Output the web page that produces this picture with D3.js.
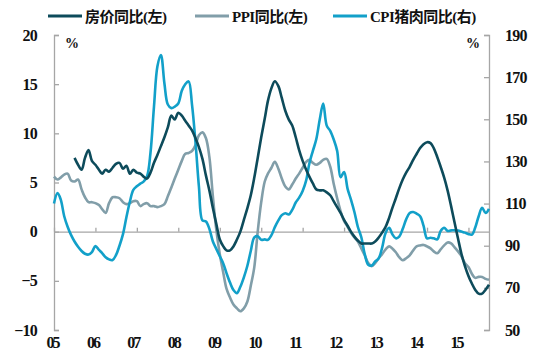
<!DOCTYPE html>
<html>
<head>
<meta charset="utf-8">
<script src="https://cdn.jsdelivr.net/npm/d3@7/dist/d3.min.js"></script>
<style>
  body { margin: 0; background: #fff; }
  text { font-family: "Liberation Serif", "Noto Sans CJK SC", serif; font-weight: bold; }
</style>
</head>
<body>
<svg width="540" height="362"></svg>
<script>
const width = 540, height = 362

// monthly, Jan 2005 .. Jul 2015
const months = d3.range(127).map(i => new Date(2005, i, 1))
const yearLabels = ['05', '06', '07', '08', '09', '10', '11', '12', '13', '14', '15']
const leftTicks = [-10, -5, 0, 5, 10, 15, 20]
const rightTicks = [50, 70, 90, 110, 130, 150, 170, 190]
const seriesNames = ['房价同比(左)', 'PPI同比(左)', 'CPI猪肉同比(右)']

// 房价同比 (%), starts Jul 2005
const housePrice = [null, null, null, null, null, null,
  7.5, 6.8, 6.3, 7.5, 8.3, 7.2, 6.8, 6.3, 5.9, 6.3,
  6.1, 6.5, 6.9, 7.0, 6.4, 6.7, 5.9, 6.3, 6.0, 5.9,
  5.6, 5.4, 6.0, 7.0, 7.8, 8.7, 9.6, 10.6, 11.8, 11.4,
  12.1, 11.8, 11.3, 10.8, 10.3, 9.5, 8.6, 7.4, 5.7, 4.2,
  2.4, 0.8, -0.8, -1.5, -1.9, -1.9, -1.5, -0.8, 0.0, 1.2,
  2.4, 3.7, 5.5, 7.5, 9.6, 11.5, 13.3, 14.6, 15.3, 14.8,
  13.6, 12.3, 11.4, 10.8, 9.6, 8.3, 7.2, 6.3, 5.6, 4.9,
  4.3, 4.2, 4.2, 4.0, 3.7, 3.1, 2.5, 1.9, 1.2, 0.6,
  0.0, -0.5, -0.9, -1.2, -1.2, -1.2, -1.2, -1.0, -0.6, -0.1,
  0.5, 1.4, 2.4, 3.4, 4.4, 5.3, 6.0, 6.6, 7.3, 7.9,
  8.5, 8.9, 9.1, 9.0, 8.5, 7.6, 6.6, 5.5, 4.2, 2.6,
  0.9, -0.7, -2.3, -3.5, -4.5, -5.3, -5.9, -6.3, -6.3, -5.9,
  -5.4]

// PPI同比 (%)
const ppi = [5.6, 5.3, 5.5, 5.8, 5.9, 5.2, 5.1, 5.3, 4.3, 3.5,
  3.0, 3.0, 2.9, 2.7, 2.3, 1.9, 2.9, 3.5, 3.5, 3.4,
  3.0, 2.8, 2.9, 3.1, 3.1, 2.6, 2.8, 2.9, 2.6, 2.6,
  2.5, 2.6, 2.8, 3.6, 4.5, 5.4, 6.3, 7.2, 7.9, 8.0,
  8.2, 8.8, 9.8, 10.1, 9.5, 7.6, 3.6, 0.2, -2.3, -4.2,
  -5.8, -6.7, -7.4, -7.8, -8.1, -7.8, -7.1, -5.5, -3.6, 0.0,
  3.0, 5.1, 5.9, 6.5, 7.1, 6.4, 5.4, 4.6, 4.3, 4.8,
  5.4, 5.9, 6.5, 7.1, 7.3, 7.0, 6.8, 7.0, 7.3, 7.4,
  6.6, 4.9, 3.4, 2.1, 1.1, 0.5, -0.1, -0.6, -1.0, -1.7,
  -2.4, -3.2, -3.5, -3.2, -2.7, -2.3, -1.8, -1.5, -1.7, -2.1,
  -2.6, -2.9, -2.7, -2.4, -1.9, -1.5, -1.4, -1.35, -1.5, -1.7,
  -2.0, -2.2, -1.8, -1.4, -1.1, -1.2, -1.6, -2.0, -2.5, -3.2,
  -3.6, -4.3, -4.7, -4.6, -4.6, -4.8, -4.9]

// CPI猪肉同比 (right axis)
const pork = [110, 115, 112, 104, 99, 95, 92, 89.5, 87.5, 86.2,
  85.8, 87, 89.8, 88, 86.5, 84.5, 83.5, 83.2, 85.5, 90,
  95.5, 103.5, 111, 116.5, 118.2, 119.5, 120.4, 123, 134, 156,
  175, 180.5, 167, 157, 155.3, 156, 157.5, 163.5, 166.5, 168,
  157, 139, 118, 102, 101.5, 98, 92, 88.5, 85, 81.5,
  77, 72.5, 69, 67.5, 70.5, 75, 80.5, 87.5, 94, 94.5,
  92.8, 93, 92.8, 95, 98.8, 102, 104.5, 105.4, 104.8, 107,
  110.5, 112.8, 116, 121, 129, 135, 140.5, 150, 157.5, 147,
  144.5, 140.5, 135, 122.5, 125, 117, 112, 106, 99, 94,
  86, 81, 80.6, 82.5, 84, 89, 96, 98.5, 95.5, 93.5,
  94.3, 98, 102.5, 105.5, 106, 105.2, 104, 99.5, 93.5, 93.8,
  93.5, 93, 97, 98.5, 97, 97.3, 97.3, 97.2, 96.7, 96.2,
  95.5, 95.3, 98.5, 104, 108, 105.5, 107.5]

const colors = ['#0d4b5b', '#819ea9', '#12a0c9']
const axisColor = '#a6a6a6'

const svg = d3.select('svg')

const x = d3.scaleTime([new Date(2005, 0, 1), new Date(2015, 6, 1)], [54, 489])
const yLeft = d3.scaleLinear([-10, 20], [330, 35])
const yRight = d3.scaleLinear([50, 190], [330, 35])
const labelScale = d3.scalePoint(yearLabels, [52, 456])

// left axis
svg.append('g')
    .attr('class', 'axis-left')
    .attr('transform', 'translate(54, 0)')
    .call(d3.axisLeft(yLeft).tickValues(leftTicks).tickSizeInner(-5).tickSizeOuter(-5).tickPadding(17))

// right axis
svg.append('g')
    .attr('class', 'axis-right')
    .attr('transform', 'translate(489, 0)')
    .call(d3.axisRight(yRight).tickValues(rightTicks).tickSizeInner(-5).tickSizeOuter(-5).tickPadding(16))

// zero line with year ticks
svg.append('g')
    .attr('class', 'axis-zero')
    .attr('transform', `translate(0, ${yLeft(0)})`)
    .call(d3.axisBottom(x).ticks(d3.timeYear.every(1)).tickSizeInner(-4).tickSizeOuter(0).tickFormat(''))

// year labels along the bottom
svg.append('g')
    .attr('class', 'axis-x')
    .attr('transform', 'translate(0, 330)')
    .call(d3.axisBottom(labelScale).tickSize(0).tickPadding(7))
    .call(g => g.select('.domain').remove())

svg.selectAll('.domain, .tick line')
    .attr('stroke', axisColor)
    .attr('stroke-width', 1.3)

svg.selectAll('.tick text')
    .attr('font-size', '16px')
    .attr('fill', '#111')
    .attr('letter-spacing', '-0.8px')

svg.selectAll('.axis-x .tick text')
    .attr('letter-spacing', '-2px')

// % units
svg.append('text').text('%').attr('x', 65).attr('y', 48).attr('font-size', '14px').attr('fill', '#111')
svg.append('text').text('%').attr('x', 466).attr('y', 48).attr('font-size', '14px').attr('fill', '#111')

const lineLeft = d3.line()
    .defined(d => d[1] != null)
    .x(d => x(d[0]))
    .y(d => yLeft(d[1]))
    .curve(d3.curveCatmullRom.alpha(0.5))

const lineRight = d3.line()
    .x(d => x(d[0]))
    .y(d => yRight(d[1]))
    .curve(d3.curveCatmullRom.alpha(0.5))

const zipped = vals => months.map((m, i) => [m, vals[i]])

svg.append('path')
    .datum(zipped(ppi))
    .attr('d', lineLeft)
    .attr('fill', 'none')
    .attr('stroke', colors[1])
    .attr('stroke-width', 2.6)

svg.append('path')
    .datum(zipped(pork))
    .attr('d', lineRight)
    .attr('fill', 'none')
    .attr('stroke', colors[2])
    .attr('stroke-width', 2.6)

svg.append('path')
    .datum(zipped(housePrice))
    .attr('d', lineLeft)
    .attr('fill', 'none')
    .attr('stroke', colors[0])
    .attr('stroke-width', 2.6)

// legend
const legendX = [48, 195, 333]
const legend = svg.append('g').attr('class', 'legend')
    .selectAll('g')
    .data(seriesNames)
    .join('g')
    .attr('transform', (d, i) => `translate(${legendX[i]}, 16)`)

legend.append('line')
    .attr('x1', 0).attr('x2', 34)
    .attr('stroke', (d, i) => colors[i])
    .attr('stroke-width', 3)

legend.append('text')
    .text(d => d)
    .attr('x', 37)
    .attr('y', 6)
    .attr('font-size', '15px')
    .attr('letter-spacing', '-0.5px')
    .attr('fill', '#111')
</script>
</body>
</html>
